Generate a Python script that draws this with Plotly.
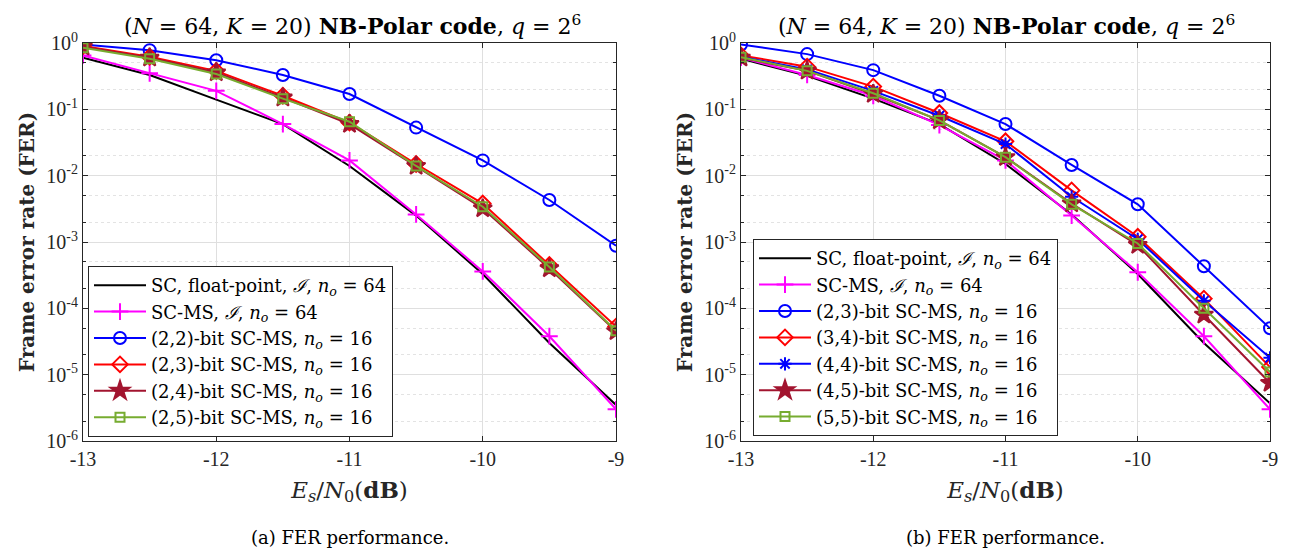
import plotly.graph_objects as go

x = [-13, -12.5, -12, -11.5, -11, -10.5, -10, -9.5, -9]

# Left panel (a)
a_sc_float = [0.60, 0.33, 0.14, 0.060, 0.014, 0.0025, 0.00033, 0.000030, 3.5e-6]
a_sc_ms = [0.65, 0.35, 0.19, 0.060, 0.017, 0.0026, 0.00036, 0.000038, 3.0e-6]
a_22 = [0.95, 0.78, 0.55, 0.33, 0.17, 0.053, 0.017, 0.0043, 0.00088]
a_23 = [0.90, 0.62, 0.38, 0.16, 0.063, 0.015, 0.0038, 0.00045, 5.3e-5]
a_24 = [0.88, 0.60, 0.36, 0.15, 0.060, 0.014, 0.0032, 0.00040, 4.5e-5]
a_25 = [0.85, 0.58, 0.34, 0.145, 0.065, 0.014, 0.0034, 0.00042, 4.6e-5]

# Right panel (b)
b_sc_float = [0.58, 0.32, 0.145, 0.060, 0.015, 0.0026, 0.00033, 0.000030, 3.7e-6]
b_sc_ms = [0.60, 0.33, 0.16, 0.058, 0.017, 0.0025, 0.00035, 0.000038, 3.0e-6]
b_23 = [0.95, 0.68, 0.39, 0.16, 0.060, 0.0145, 0.0037, 0.00043, 5.0e-5]
b_34 = [0.65, 0.44, 0.22, 0.088, 0.033, 0.0060, 0.0012, 0.00014, 1.3e-5]
b_44 = [0.62, 0.40, 0.19, 0.080, 0.030, 0.0048, 0.0011, 0.00013, 1.8e-5]
b_45 = [0.60, 0.38, 0.17, 0.068, 0.019, 0.0038, 0.00090, 0.000080, 7.5e-6]
b_55 = [0.61, 0.38, 0.175, 0.068, 0.019, 0.0037, 0.00095, 0.00010, 1.1e-5]

x_ticks = [-13, -12, -11, -10, -9]
y_tickvals = [1e-6, 1e-5, 1e-4, 1e-3, 1e-2, 1e-1, 1]
y_ticktext = ["10<sup>-6</sup>", "10<sup>-5</sup>", "10<sup>-4</sup>", "10<sup>-3</sup>",
              "10<sup>-2</sup>", "10<sup>-1</sup>", "10<sup>0</sup>"]

NO = "<i>n<sub>o</sub></i>"
EQ = "&nbsp;=&nbsp;"
CALI = "<i>\u2110</i>"
names_a = [
    f"SC,&nbsp;float-point, {CALI}, {NO}{EQ}64",
    f"SC-MS, {CALI}, {NO}{EQ}64",
    f"(2,2)-bit SC-MS, {NO}{EQ}16",
    f"(2,3)-bit SC-MS, {NO}{EQ}16",
    f"(2,4)-bit SC-MS, {NO}{EQ}16",
    f"(2,5)-bit SC-MS, {NO}{EQ}16",
]
names_b = [
    f"SC,&nbsp;float-point, {CALI}, {NO}{EQ}64",
    f"SC-MS, {CALI}, {NO}{EQ}64",
    f"(2,3)-bit SC-MS, {NO}{EQ}16",
    f"(3,4)-bit SC-MS, {NO}{EQ}16",
    f"(4,4)-bit SC-MS, {NO}{EQ}16",
    f"(4,5)-bit SC-MS, {NO}{EQ}16",
    f"(5,5)-bit SC-MS, {NO}{EQ}16",
]

BLACK = "#000000"
MAG = "#FF00FF"
BLUE = "#0000FF"
RED = "#FF0000"
DRED = "#A2142F"
GREEN = "#77AC30"

styles_a = [
    (BLACK, None, 0),
    (MAG, "cross-thin-open", 12),
    (BLUE, "circle-open", 12),
    (RED, "diamond-open", 12),
    (DRED, "star", 14),
    (GREEN, "square-open", 9),
]
styles_b = [
    (BLACK, None, 0),
    (MAG, "cross-thin-open", 12),
    (BLUE, "circle-open", 12),
    (RED, "diamond-open", 12),
    (BLUE, "asterisk-open", 11),
    (DRED, "star", 14),
    (GREEN, "square-open", 9),
]

fig = go.Figure()


def add_series(data, names, styles, xa, ya, leg):
    for ys, nm, (col, sym, sz) in zip(data, names, styles):
        if sym is None:
            fig.add_trace(go.Scatter(x=x, y=ys, name=nm, mode="lines",
                                     line=dict(color=col, width=2),
                                     xaxis=xa, yaxis=ya, legend=leg))
        else:
            fig.add_trace(go.Scatter(x=x, y=ys, name=nm, mode="lines+markers",
                                     line=dict(color=col, width=2),
                                     marker=dict(symbol=sym, size=sz, color=col,
                                                 line=dict(color=col, width=2)),
                                     xaxis=xa, yaxis=ya, legend=leg))


add_series([a_sc_float, a_sc_ms, a_22, a_23, a_24, a_25], names_a, styles_a, "x", "y", "legend")
add_series([b_sc_float, b_sc_ms, b_23, b_34, b_44, b_45, b_55], names_b, styles_b, "x2", "y2", "legend2")

W, H = 1289, 552
OFF = 8  # page body margin in the browser


def px(sx):
    return (sx - OFF) / W


def py(sy):
    return 1 - (sy - OFF) / H


ydom = [py(441), py(43)]
TFONT = "'Liberation Serif', 'Times New Roman', serif"
FONT = "'DejaVu Serif', 'Liberation Serif', serif"
AX = "#262626"


def xaxis_cfg(dom, anchor):
    return dict(domain=dom, anchor=anchor, range=[-13, -9], tickvals=x_ticks,
                ticktext=[str(t) for t in x_ticks], automargin=False,
                showline=True, linecolor=AX, linewidth=1, mirror="ticks",
                ticks="inside", ticklen=5, tickcolor=AX,
                showgrid=True, gridcolor="#DFDFDF", gridwidth=1, zeroline=False,
                tickfont=dict(size=20, family=TFONT, color=AX),
                title=dict(text="<i>E<sub>s</sub></i>/<i>N</i><sub>0</sub>(<b>dB</b>)",
                           font=dict(size=23, family=FONT, color=AX), standoff=12))


def yaxis_cfg(dom, anchor):
    return dict(domain=dom, anchor=anchor, type="log", range=[-6, 0],
                tickvals=y_tickvals, ticktext=y_ticktext, automargin=False,
                showline=True, linecolor=AX, linewidth=1, mirror="ticks",
                ticks="inside", ticklen=5, tickcolor=AX,
                showgrid=True, gridcolor="#DFDFDF", gridwidth=1, zeroline=False,
                minor=dict(showgrid=True, gridcolor="#E3E3E3", griddash="dot",
                           ticks="inside", ticklen=3, tickcolor=AX),
                tickfont=dict(size=20, family=TFONT, color=AX),
                title=dict(text="<b>Frame error rate (FER)</b>",
                           font=dict(size=20, family=FONT, color=AX), standoff=6))


xl = [px(83), px(616)]
xr = [px(741), px(1270)]

LEGFONT = dict(size=18, family=FONT, color="#000000")
fig.update_layout(
    width=W, height=H,
    margin=dict(l=0, r=0, t=0, b=0, autoexpand=False),
    paper_bgcolor="white", plot_bgcolor="white",
    font=dict(family=FONT, color="#000000"),
    xaxis=xaxis_cfg(xl, "y"),
    yaxis=yaxis_cfg(ydom, "x"),
    xaxis2=xaxis_cfg(xr, "y2"),
    yaxis2=yaxis_cfg(ydom, "x2"),
    legend=dict(x=px(88), y=py(266), xanchor="left", yanchor="top",
                bgcolor="white", bordercolor=AX, borderwidth=1,
                font=LEGFONT, tracegroupgap=0, itemwidth=52),
    legend2=dict(x=px(753), y=py(239), xanchor="left", yanchor="top",
                 bgcolor="white", bordercolor=AX, borderwidth=1,
                 font=LEGFONT, tracegroupgap=0, itemwidth=52),
    showlegend=True,
)

title_txt = ("(<i>N</i>&nbsp;=&nbsp;64, <i>K</i>&nbsp;=&nbsp;20) <b>NB-Polar code</b>, "
             "<i>q</i>&nbsp;=&nbsp;2<sup>6</sup>")
for cx in [px(352), px(1006)]:
    fig.add_annotation(x=cx, y=py(25), xref="paper", yref="paper", text=title_txt,
                       showarrow=False, font=dict(size=22, family=FONT, color="#000000"),
                       xanchor="center", yanchor="middle")

for cx, cap in [((xl[0] + xl[1]) / 2, "(a) FER performance."),
                ((xr[0] + xr[1]) / 2, "(b) FER performance.")]:
    fig.add_annotation(x=cx, y=py(537), xref="paper", yref="paper", text=cap,
                       showarrow=False, font=dict(size=18, family=FONT, color="#000000"),
                       xanchor="center", yanchor="middle")

fig.write_html("out.html")
